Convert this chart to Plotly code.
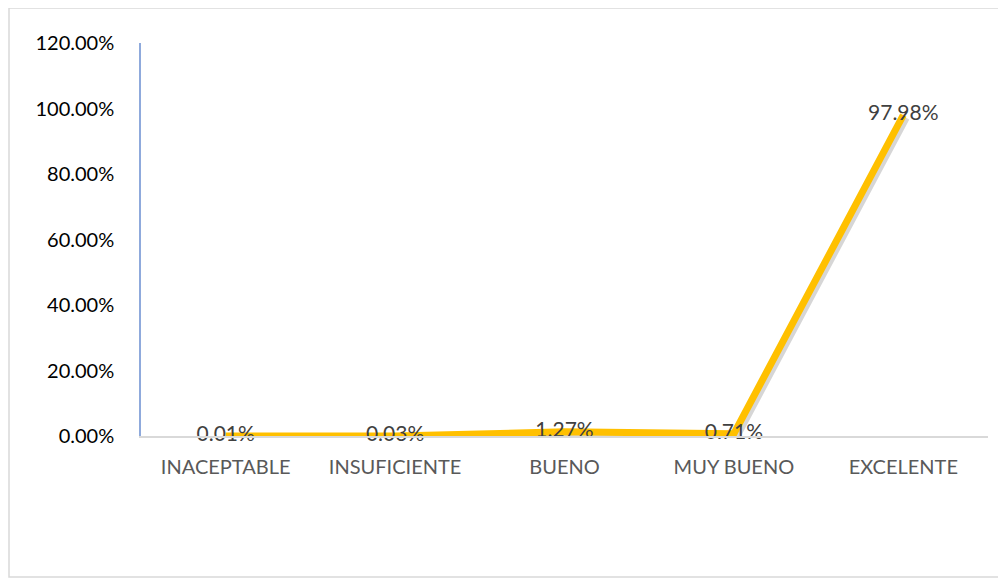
import plotly.graph_objects as go

categories = ["INACEPTABLE", "INSUFICIENTE", "BUENO", "MUY BUENO", "EXCELENTE"]
values = [0.0001, 0.0003, 0.0127, 0.0071, 0.9798]
y_ticks = [0, 0.2, 0.4, 0.6, 0.8, 1.0, 1.2]

# page has an 8px body margin; figure sized/placed to compensate
W, H = 998, 570
L, R, T, B = 133, 18, 35, 142
pw, ph = W - L - R, H - T - B

FONT = "Lato, Calibri, sans-serif"

# shadow offsets in pixels -> axis units
sx, sy = 2.5, 2.5
dx = sx / pw * 5.0
dy = sy / ph * 1.2

fig = go.Figure()
# shadow (drawn on shifted overlay axes x2/y2)
fig.add_trace(go.Scatter(
    x=categories, y=values, mode="lines",
    line=dict(color="rgba(0,0,0,0.16)", width=8),
    xaxis="x2", yaxis="y2", hoverinfo="skip",
))
# main line (on overlay axes x3/y3, same scale as primary axes, drawn last)
fig.add_trace(go.Scatter(
    x=categories, y=values, mode="lines+text",
    line=dict(color="#FFC000", width=7),
    texttemplate="%{y:.2%}", textposition="middle center",
    textfont=dict(family=FONT, size=21, color="#404040"),
    cliponaxis=False, hoverinfo="skip",
    xaxis="x3", yaxis="y3",
))
# invisible trace to hold primary axes
fig.add_trace(go.Scatter(
    x=categories, y=values, mode="lines", line=dict(width=0),
    hoverinfo="skip", opacity=0,
))

fig.update_layout(
    width=W, height=H,
    margin=dict(l=L, r=R, t=T, b=B),
    paper_bgcolor="white", plot_bgcolor="white",
    showlegend=False,
    font=dict(family=FONT),
    xaxis=dict(
        type="category", range=[-0.5, 4.5], categoryarray=categories,
        showgrid=False, zeroline=False,
        showline=True, linecolor="#D9D9D9", linewidth=1.5,
        ticks="", tickfont=dict(size=20, color="#595959"),
        ticklabelstandoff=12,
    ),
    yaxis=dict(
        range=[0, 1.2], tickvals=y_ticks, tickformat=".2%",
        showgrid=False, zeroline=False,
        showline=True, linecolor="#8FAADC", linewidth=1.5,
        ticks="", tickfont=dict(size=20, color="#000000"),
        ticklabelstandoff=21,
    ),
    xaxis2=dict(
        type="category", range=[-0.5 - dx, 4.5 - dx], overlaying="x",
        visible=False, categoryarray=categories,
    ),
    yaxis2=dict(
        range=[dy, 1.2 + dy], overlaying="y", visible=False,
    ),
    xaxis3=dict(
        type="category", range=[-0.5, 4.5], overlaying="x",
        visible=False, categoryarray=categories,
    ),
    yaxis3=dict(
        range=[0, 1.2], overlaying="y", visible=False,
    ),
    shapes=[dict(
        type="rect", xref="paper", yref="paper",
        x0=(1 - L) / pw, x1=(997 - L) / pw,
        y0=(H - B - 569) / ph, y1=(H - B - 0) / ph,
        line=dict(color="#D9D9D9", width=1.5), layer="below",
    )],
)

fig.write_html("out.html")
